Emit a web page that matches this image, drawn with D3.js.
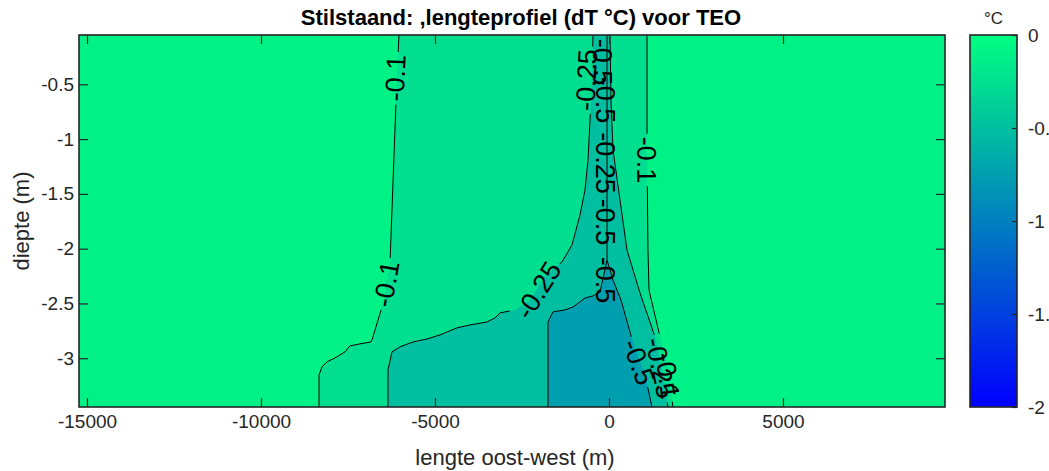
<!DOCTYPE html>
<html>
<head>
<meta charset="utf-8">
<script src="https://cdn.jsdelivr.net/npm/d3@7/dist/d3.min.js"></script>
<style>
  body { margin: 0; background: #fff; }
  text { font-family: "Liberation Sans", Arial, Helvetica, sans-serif; }
</style>
</head>
<body>
<svg id="chart" width="1049" height="471"></svg>
<script>
// Temperature difference along the length profile (filled contours)

// Axis limits and ticks
var xLimits = [ -15230, 9655 ];
var yLimits = [ -3.445, -0.05 ];
var xTicks = [ -15000, -10000, -5000, 0, 5000 ];
var yTicks = [ -3, -2.5, -2, -1.5, -1, -0.5 ];
var colorLimits = [ -2, 0 ];
var colorTicks = [ -2, -1.5, -1, -0.5, 0 ];

// Colour used for each band (value that picks the colormap entry)
var bandBackground = -0.1;
var band01 = -0.25;
var band025 = -0.5;
var band05 = -0.75;

// Contour lines, [x (m), depth (m)]
var line01West = [ [ -8333, -3.445 ], [ -8333, -3.152 ], [ -8247, -3.079 ], [ -8104, -3.033 ],
  [ -7874, -2.997 ], [ -7586, -2.942 ], [ -7443, -2.887 ], [ -7155, -2.869 ], [ -6839, -2.851 ],
  [ -6810, -2.832 ], [ -6523, -2.532 ], [ -6293, -2.130 ], [ -6121, -0.661 ], [ -6035, -0.05 ] ];
var line01East = [ [ 1092, -0.05 ], [ 1092, -1.099 ], [ 1120, -2.012 ], [ 1150, -2.377 ],
  [ 1466, -2.805 ], [ 1695, -3.106 ], [ 1839, -3.445 ] ];
var line025West = [ [ -6351, -3.445 ], [ -6351, -3.106 ], [ -6236, -2.942 ], [ -6006, -2.896 ],
  [ -5632, -2.851 ], [ -5230, -2.824 ], [ -4856, -2.787 ], [ -4368, -2.723 ], [ -3994, -2.696 ],
  [ -3506, -2.669 ], [ -3276, -2.632 ], [ -3132, -2.586 ], [ -2701, -2.559 ], [ -2270, -2.470 ],
  [ -1839, -2.249 ], [ -1351, -2.121 ], [ -1063, -1.966 ], [ -833, -1.692 ], [ -690, -1.464 ],
  [ -603, -1.191 ], [ -546, -0.826 ], [ -489, -0.461 ], [ -460, -0.05 ] ];
var line025East = [ [ 29, -0.05 ], [ 57, -0.643 ], [ 115, -1.099 ], [ 316, -1.555 ], [ 517, -2.012 ],
  [ 891, -2.404 ], [ 1322, -2.805 ], [ 1523, -3.106 ], [ 1695, -3.445 ] ];
var line05 = [ [ -1753, -3.445 ], [ -1753, -2.669 ], [ -1609, -2.577 ], [ -1264, -2.559 ],
  [ -1034, -2.532 ], [ -690, -2.450 ], [ -460, -2.431 ], [ -259, -2.395 ], [ -57, -2.103 ],
  [ 115, -2.286 ], [ 345, -2.468 ], [ 690, -2.860 ], [ 1034, -3.152 ], [ 1236, -3.445 ] ];
var spike05 = [ [ -57, -0.05 ], [ -57, -2.103 ] ];

// Contour labels: text, line it sits on, anchor point
var labelText = [ '-0.1', '-0.1', '-0.25', '-0.1', '-0.25', '-0.5', '-0.5', '-0.25', '-0.5', '-0.5',
  '-0.5', '-0.25', '-0.1' ];
var labelLine = [ 'w01', 'w01', 'w025', 'e01', 'w025', 'spike', 'spike', 'spike', 'spike', 'spike',
  'c05', 'e025', 'e01' ];
var labelX = [ -6150, -6408, -2040, 1092, -661, -172, -86, -86, -86, -86, 862, 1494, 1695 ];
var labelY = [ -0.443, -2.322, -2.377, -1.191, -0.461, -0.297, -0.643, -1.218, -1.756, -2.286,
  -3.034, -3.088, -3.16 ];

var titleText = 'Stilstaand: ,lengteprofiel (dT \u00b0C) voor TEO';
var xLabel = 'lengte oost-west (m)';
var yLabel = 'diepte (m)';
var unitLabel = '\u00b0C';

var lines = { w01: line01West, e01: line01East, w025: line025West, e025: line025East,
  c05: line05, spike: spike05 };

// Layout
var plot = { left: 79, right: 945, top: 35, bottom: 407 };
var cbar = { left: 970, right: 1017 };
var axisColor = '#262626';

var svg = d3.select( '#chart' );

var x = d3.scaleLinear().domain( xLimits ).range( [ plot.left, plot.right ] );
var y = d3.scaleLinear().domain( yLimits ).range( [ plot.bottom, plot.top ] );
var cy = d3.scaleLinear().domain( colorLimits ).range( [ plot.bottom, plot.top ] );

// MATLAB "winter" colormap
var winter = d3.scaleLinear().domain( colorLimits )
  .range( [ 'rgb(0,0,255)', 'rgb(0,255,128)' ] )
  .interpolate( d3.interpolateRgb );

var defs = svg.append( 'defs' );
defs.append( 'clipPath' ).attr( 'id', 'plotClip' )
  .append( 'rect' )
  .attr( 'x', plot.left ).attr( 'y', plot.top )
  .attr( 'width', plot.right - plot.left ).attr( 'height', plot.bottom - plot.top );

var path = d3.line()
  .x( function( d ) { return x( d[ 0 ] ); } )
  .y( function( d ) { return y( d[ 1 ] ); } );

//
// Filled bands
//
var fills = svg.append( 'g' ).attr( 'clip-path', 'url(#plotClip)' );

fills.append( 'rect' )
  .attr( 'x', plot.left ).attr( 'y', plot.top )
  .attr( 'width', plot.right - plot.left ).attr( 'height', plot.bottom - plot.top )
  .attr( 'fill', winter( bandBackground ) );

var bands = [
  { pts: line01West.concat( line01East ), v: band01 },
  { pts: line025West.concat( line025East ), v: band025 },
  { pts: line05, v: band05 }
];
fills.selectAll( 'path.band' )
  .data( bands )
  .enter().append( 'path' )
  .attr( 'class', 'band' )
  .attr( 'd', function( d ) { return path( d.pts ) + 'Z'; } )
  .attr( 'fill', function( d ) { return winter( d.v ); } );

//
// Contour labels (angle follows the line)
//
function lineAngle( pts, px, py ) {
  var best = Infinity, ang = 0;
  for ( var i = 0; i < pts.length - 1; i++ ) {
    var x1 = x( pts[ i ][ 0 ] ), y1 = y( pts[ i ][ 1 ] );
    var x2 = x( pts[ i + 1 ][ 0 ] ), y2 = y( pts[ i + 1 ][ 1 ] );
    var dx = x2 - x1, dy = y2 - y1;
    var len2 = dx * dx + dy * dy || 1;
    var t = Math.max( 0, Math.min( 1, ( ( px - x1 ) * dx + ( py - y1 ) * dy ) / len2 ) );
    var qx = x1 + t * dx - px, qy = y1 + t * dy - py;
    var dist = qx * qx + qy * qy;
    if ( dist < best ) {
      best = dist;
      ang = Math.atan2( dy, dx ) * 180 / Math.PI;
    }
  }
  if ( ang > 90.5 ) ang -= 180;
  if ( ang < -90.5 ) ang += 180;
  return ang;
}

var labelData = labelText.map( function( t, i ) {
  var px = x( labelX[ i ] ), py = y( labelY[ i ] );
  return { text: t, line: labelLine[ i ], px: px, py: py,
    angle: lineAngle( lines[ labelLine[ i ] ], px, py ) };
} );

// Mask to break the lines under the labels
var mask = defs.append( 'mask' ).attr( 'id', 'gapMask' )
  .attr( 'maskUnits', 'userSpaceOnUse' )
  .attr( 'x', 0 ).attr( 'y', 0 ).attr( 'width', 1049 ).attr( 'height', 471 );
mask.append( 'rect' ).attr( 'width', 1049 ).attr( 'height', 471 ).attr( 'fill', 'white' );

var contourLines = svg.append( 'g' )
  .attr( 'clip-path', 'url(#plotClip)' )
  .append( 'g' )
  .attr( 'mask', 'url(#gapMask)' );

contourLines.selectAll( 'path' )
  .data( Object.keys( lines ).map( function( k ) { return lines[ k ]; } ) )
  .enter().append( 'path' )
  .attr( 'd', path )
  .attr( 'fill', 'none' )
  .attr( 'stroke', '#000' )
  .attr( 'stroke-width', 1 );

var labels = svg.append( 'g' ).attr( 'class', 'clabels' );
labelData.forEach( function( d ) {
  var g = labels.append( 'g' )
    .attr( 'transform', 'translate(' + d.px + ',' + d.py + ') rotate(' + d.angle + ')' );
  var t = g.append( 'text' )
    .attr( 'text-anchor', 'middle' )
    .attr( 'dy', '0.36em' )
    .attr( 'font-size', 27 )
    .attr( 'fill', '#000' )
    .text( d.text );
  if ( d.line !== 'spike' ) {
    var bb = t.node().getBBox();
    mask.append( 'rect' )
      .attr( 'transform', 'translate(' + d.px + ',' + d.py + ') rotate(' + d.angle + ')' )
      .attr( 'x', bb.x - 3 ).attr( 'y', -bb.height / 2 + 2 )
      .attr( 'width', bb.width + 6 ).attr( 'height', bb.height - 4 )
      .attr( 'fill', 'black' );
  }
} );

//
// Axes (inward ticks on all four sides)
//
var fmt = function( d ) { return String( d ); };

function styleAxis( g ) {
  g.select( '.domain' ).remove();
  g.selectAll( 'line' ).attr( 'stroke', axisColor ).attr( 'stroke-width', 1.2 );
  g.selectAll( 'text' )
    .attr( 'fill', axisColor )
    .attr( 'font-size', 19 )
    .attr( 'font-family', '"Liberation Sans", Arial, sans-serif' );
}

svg.append( 'g' )
  .attr( 'transform', 'translate(0,' + plot.bottom + ')' )
  .call( d3.axisBottom( x ).tickValues( xTicks ).tickFormat( fmt ).tickSizeInner( -9 ).tickSizeOuter( 0 ).tickPadding( 8 ) )
  .call( styleAxis );
svg.append( 'g' )
  .attr( 'transform', 'translate(0,' + plot.top + ')' )
  .call( d3.axisTop( x ).tickValues( xTicks ).tickFormat( '' ).tickSizeInner( -9 ).tickSizeOuter( 0 ) )
  .call( styleAxis );
svg.append( 'g' )
  .attr( 'transform', 'translate(' + plot.left + ',0)' )
  .call( d3.axisLeft( y ).tickValues( yTicks ).tickFormat( fmt ).tickSizeInner( -9 ).tickSizeOuter( 0 ).tickPadding( 5 ) )
  .call( styleAxis );
svg.append( 'g' )
  .attr( 'transform', 'translate(' + plot.right + ',0)' )
  .call( d3.axisRight( y ).tickValues( yTicks ).tickFormat( '' ).tickSizeInner( -9 ).tickSizeOuter( 0 ) )
  .call( styleAxis );

// Plot frame
svg.append( 'rect' )
  .attr( 'x', plot.left ).attr( 'y', plot.top )
  .attr( 'width', plot.right - plot.left ).attr( 'height', plot.bottom - plot.top )
  .attr( 'fill', 'none' )
  .attr( 'stroke', axisColor )
  .attr( 'stroke-width', 1.6 );

//
// Colorbar
//
var grad = defs.append( 'linearGradient' )
  .attr( 'id', 'cbGrad' )
  .attr( 'x1', '0%' ).attr( 'x2', '0%' )
  .attr( 'y1', '100%' ).attr( 'y2', '0%' );
d3.range( 0, 1.0001, 0.1 ).forEach( function( f ) {
  grad.append( 'stop' )
    .attr( 'offset', ( f * 100 ) + '%' )
    .attr( 'stop-color', winter( colorLimits[ 0 ] + f * ( colorLimits[ 1 ] - colorLimits[ 0 ] ) ) );
} );

svg.append( 'rect' )
  .attr( 'x', cbar.left ).attr( 'y', plot.top )
  .attr( 'width', cbar.right - cbar.left ).attr( 'height', plot.bottom - plot.top )
  .attr( 'fill', 'url(#cbGrad)' );

// Tick labels run past the window edge, as in the original figure
svg.append( 'g' )
  .attr( 'transform', 'translate(' + cbar.right + ',0)' )
  .call( d3.axisRight( cy ).tickValues( colorTicks ).tickFormat( fmt ).tickSizeInner( -5 ).tickSizeOuter( 0 ).tickPadding( 11 ) )
  .call( styleAxis );

svg.append( 'rect' )
  .attr( 'x', cbar.left ).attr( 'y', plot.top )
  .attr( 'width', cbar.right - cbar.left ).attr( 'height', plot.bottom - plot.top )
  .attr( 'fill', 'none' )
  .attr( 'stroke', axisColor )
  .attr( 'stroke-width', 1.6 );

svg.append( 'text' )
  .attr( 'x', ( cbar.left + cbar.right ) / 2 ).attr( 'y', 24 )
  .attr( 'text-anchor', 'middle' )
  .attr( 'font-size', 17 )
  .attr( 'fill', axisColor )
  .text( unitLabel );

//
// Titles
//
svg.append( 'text' )
  .attr( 'x', ( plot.left + plot.right ) / 2 + 9 ).attr( 'y', 25 )
  .attr( 'text-anchor', 'middle' )
  .attr( 'font-size', 22 )
  .attr( 'font-weight', 'bold' )
  .attr( 'fill', '#000' )
  .text( titleText );

svg.append( 'text' )
  .attr( 'x', ( plot.left + plot.right ) / 2 + 3 ).attr( 'y', 465 )
  .attr( 'text-anchor', 'middle' )
  .attr( 'font-size', 22 )
  .attr( 'fill', axisColor )
  .text( xLabel );

svg.append( 'text' )
  .attr( 'transform', 'translate(29,' + ( ( plot.top + plot.bottom ) / 2 ) + ') rotate(-90)' )
  .attr( 'text-anchor', 'middle' )
  .attr( 'font-size', 22 )
  .attr( 'fill', axisColor )
  .text( yLabel );
</script>
</body>
</html>
